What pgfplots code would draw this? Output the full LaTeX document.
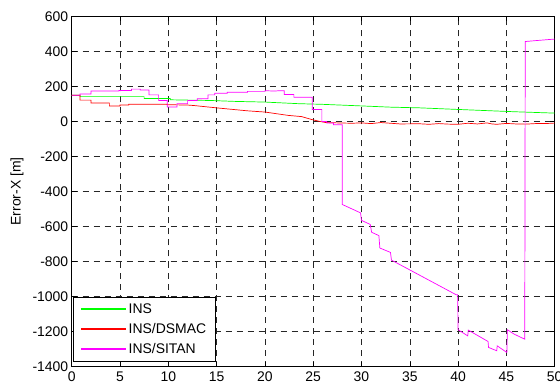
\documentclass[border=0pt]{standalone}
\usepackage{pgfplots}
\pgfplotsset{compat=1.18}
\usepackage{fontspec}
\setmainfont{Liberation Sans}
\definecolor{mgreen}{rgb}{0,1,0}
\definecolor{mred}{rgb}{1,0,0}
\definecolor{mmag}{rgb}{1,0,1}
\begin{document}
\begin{tikzpicture}
\path[use as bounding box] (-71.7bp,-18.5bp) rectangle (488.3bp,366.5bp);
\begin{axis}[
  at={(0,0)}, anchor=south west,
  scale only axis, width=483bp, height=350bp,
  xmin=0, xmax=50, ymin=-1400, ymax=600,
  xtick={0,5,...,50}, ytick={-1400,-1200,...,600},
  /pgf/number format/assume math mode=true,
  /pgf/number format/1000 sep={},
  tick label style={font=\fontsize{14}{16}\selectfont},
  label style={font=\fontsize{14}{16}\selectfont},
  ylabel={Error-X [m]},
  ylabel style={at={(axis description cs:0,0.5)}, anchor=center, yshift=54.7bp},
  grid=major,
  major grid style={black!85, line width=0.5bp, dash pattern=on 6bp off 5bp},
  tick align=inside, tick pos=both, major tick length=5bp,
  axis line style={black, line width=0.7bp},
  every tick/.style={black, line width=0.6bp},
  xticklabel style={yshift=-2bp},
  legend style={at={(0,0)}, anchor=south west, xshift=1.6bp, yshift=4.8bp,
    draw=black, line width=0.7bp, fill=white,
    font=\fontsize{14}{16}\selectfont,
    inner xsep=7bp, inner ysep=4.5bp, row sep=4.5bp, cells={anchor=west}},
  legend image code/.code={\draw[#1, line width=1.4bp] (0bp,0bp) -- (44.6bp,0bp);},
  legend cell align=left,
]
\addplot[draw=mgreen, line width=0.7bp] coordinates {
(0,150) (0.86,150) (0.86,142) (7.5,142) (7.5,131) (10.2,131) (10.2,124)
(14.4,120) (16.8,115) (20,111) (23.4,102) (26,98) (30,89) (33,82)
(36,78) (39.5,70) (42.6,63) (45.7,56) (48.9,50) (50,48)
};
\addlegendentry{INS}
\addplot[draw=mred, line width=0.7bp] coordinates {
(0,150) (0.86,150) (0.86,122) (2.0,122) (2.0,106) (3.9,106) (3.9,89)
(5.0,89) (5.0,94) (5.9,94) (5.9,98) (9.9,98) (9.9,96) (12,94) (12.7,91)
(14.1,83) (16.1,72) (18.2,61) (20,54) (22.4,35) (23.8,28) (24.8,12)
(25.7,0) (26.3,-6) (27.5,-8) (29,-10) (30,-8) (31,-12) (32,-6) (33,-10)
(34,-14) (36,-13) (37,-16) (38,-12) (39,-15) (40,-16) (41,-10) (42,-14)
(43,-8) (43.5,-14) (44,-16) (45,-11) (46,-14) (47,-15) (48,-12) (49,-12) (50,-9)
};
\addlegendentry{INS/DSMAC}
\addplot[draw=mmag, line width=0.7bp] coordinates {
(0,150) (0.86,150) (0.86,157) (2.0,157) (2.0,174) (4.9,174) (4.9,177)
(6.2,177) (6.2,185) (7.1,185) (7.1,180) (8.0,180) (8.0,152) (9.0,152)
(9.0,120) (9.9,120) (9.9,83) (10.9,83) (10.9,102) (12.0,102) (12.0,120)
(13.0,120) (13.0,130) (14.1,130) (14.1,152) (14.8,152) (14.8,161)
(16.1,161) (16.1,167) (18.2,167) (18.2,172) (20,172) (20,176) (21,174)
(21.5,176) (22,176) (22,154) (23,154) (23,139) (24.9,139) (24.9,69)
(25.9,69) (25.9,0) (26.4,0) (26.4,-9) (27.1,-9) (27.1,-19) (28,-19)
(28,-474) (29.9,-522) (30,-565) (30.9,-588) (31.05,-633) (31.8,-652)
(31.9,-723) (33.0,-748) (33.1,-792) (39.8,-990) (39.95,-990)
(40,-1190) (41,-1225) (41.05,-1192) (43.1,-1257) (43.15,-1291)
(44,-1310) (44.05,-1282) (45.05,-1320) (45.1,-1190) (45.8,-1215)
(46.9,-1244) (46.95,457) (48,462) (50,471)
};
\addlegendentry{INS/SITAN}
\end{axis}
\end{tikzpicture}
\end{document}
